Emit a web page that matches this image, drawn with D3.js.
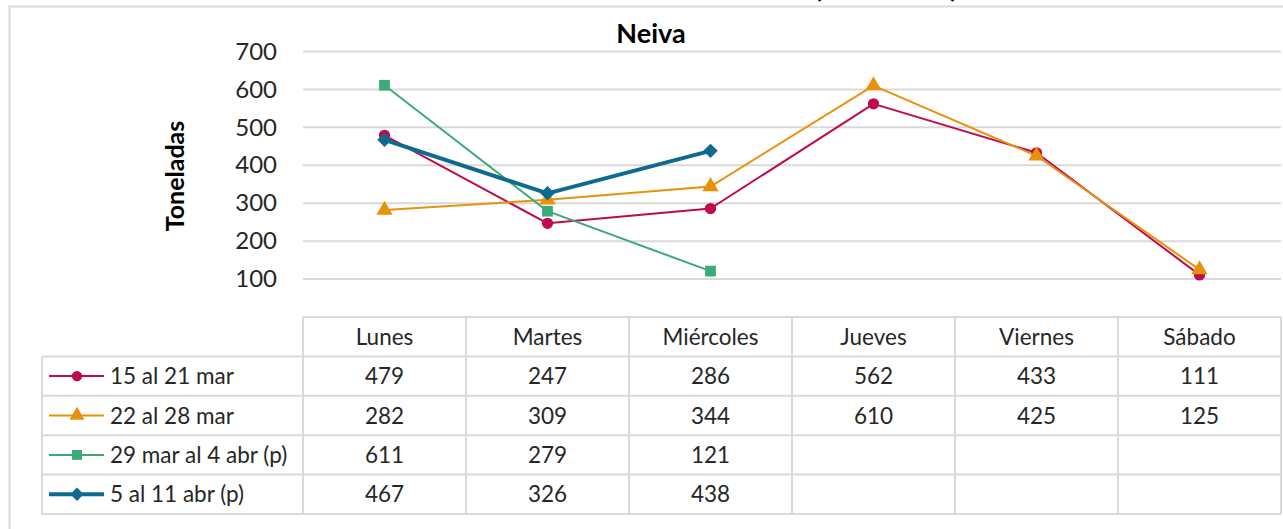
<!DOCTYPE html>
<html lang="es">
<head>
	<meta charset="utf-8">
	<title>Neiva</title>
	<script src="https://d3js.org/d3.v7.min.js"></script>
	<style>
		body { margin: 0; background: #fff; }
		text { font-family: Lato, "Open Sans", sans-serif; fill: #262626; }
	</style>
</head>
<body>
	<script>
		// Data
		var days = ["Lunes", "Martes", "Miércoles", "Jueves", "Viernes", "Sábado"];
		var seriesNames = ["15 al 21 mar", "22 al 28 mar", "29 mar al 4 abr (p)", "5 al 11 abr (p)"];
		var s1 = [479, 247, 286, 562, 433, 111];
		var s2 = [282, 309, 344, 610, 425, 125];
		var s3 = [611, 279, 121];
		var s4 = [467, 326, 438];
		var yTicks = [100, 200, 300, 400, 500, 600, 700];

		var colors = ["#c0094f", "#e8920c", "#3aaa78", "#0e6a8f"];
		var widths = [2, 2, 2, 4];
		// diamond = square turned by 45 degrees
		var symbols = [d3.symbolCircle, d3.symbolTriangle, d3.symbolSquare, d3.symbolSquare];
		var symRot = [0, 0, 0, 45];
		var symSizes = [100, 115, 115, 105];

		var series = [s1, s2, s3, s4].map(function(v, i) {
			return { name: seriesNames[i], values: v, color: colors[i], width: widths[i], symbol: symbols[i], rot: symRot[i], size: symSizes[i] };
		});

		var w = 1283, h = 529;
		var plotLeft = 303, plotRight = 1281;
		var plotTop = 51.5, zeroY = 317;
		var rowH = 39.4;
		var tableFont = 22.5;

		var svg = d3.select("body").append("svg")
			.attr("width", w)
			.attr("height", h);

		// outer frame
		svg.append("path")
			.attr("d", "M9.5," + h + "V6.5H" + w)
			.attr("fill", "none")
			.attr("stroke", "#d9d9d9")
			.attr("stroke-width", 2);

		// clipped title above the frame
		svg.append("text")
			.attr("x", 886)
			.attr("y", -3)
			.attr("text-anchor", "middle")
			.attr("font-size", 30)
			.attr("font-weight", "bold")
			.style("fill", "#000")
			.text("(toneladas)");

		var xScale = d3.scaleBand()
			.domain(days)
			.range([plotLeft, plotRight]);

		var yScale = d3.scaleLinear()
			.domain([0, 700])
			.range([zeroY, plotTop]);

		function cx(i) { return xScale(days[i]) + xScale.bandwidth() / 2; }

		// gridlines
		svg.append("g")
			.selectAll("line")
			.data(yTicks)
			.enter()
			.append("line")
			.attr("x1", plotLeft)
			.attr("x2", plotRight)
			.attr("y1", function(d) { return yScale(d); })
			.attr("y2", function(d) { return yScale(d); })
			.attr("stroke", "#d9d9d9")
			.attr("stroke-width", 2);

		// y axis labels
		var yAxis = d3.axisLeft(yScale).tickValues(yTicks).tickSize(0).tickPadding(26);
		var gy = svg.append("g")
			.attr("transform", "translate(" + plotLeft + ",0)")
			.call(yAxis);
		gy.select(".domain").remove();
		gy.selectAll("text")
			.attr("font-size", 24)
			.style("font-family", "Lato, sans-serif")
			.style("fill", "#262626");

		svg.append("text")
			.attr("transform", "translate(184,176) rotate(-90)")
			.attr("text-anchor", "middle")
			.attr("font-size", 25)
			.attr("font-weight", "bold")
			.style("fill", "#000")
			.text("Toneladas");

		svg.append("text")
			.attr("x", 651)
			.attr("y", 43)
			.attr("text-anchor", "middle")
			.attr("font-size", 27)
			.attr("font-weight", "bold")
			.style("fill", "#000")
			.text("Neiva");

		// lines and markers
		var line = d3.line()
			.x(function(d, i) { return cx(i); })
			.y(function(d) { return yScale(d); });

		series.forEach(function(s) {
			svg.append("path")
				.datum(s.values)
				.attr("d", line)
				.attr("fill", "none")
				.attr("stroke", s.color)
				.attr("stroke-width", s.width)
				.attr("stroke-linejoin", "round");

			svg.append("g")
				.selectAll("path")
				.data(s.values)
				.enter()
				.append("path")
				.attr("d", d3.symbol().type(s.symbol).size(s.size))
				.attr("transform", function(d, i) {
					return "translate(" + cx(i) + "," + yScale(d) + ") rotate(" + s.rot + ")";
				})
				.attr("fill", s.color);
		});

		// data table
		var table = svg.append("g");
		var border = "#d9d9d9";
		var legLeft = 42;

		// header
		table.selectAll(".hdr")
			.data(days)
			.enter()
			.append("text")
			.attr("x", function(d, i) { return cx(i); })
			.attr("y", zeroY + rowH / 2 + 8)
			.attr("text-anchor", "middle")
			.attr("font-size", tableFont)
			.text(function(d) { return d; });

		series.forEach(function(s, r) {
			var yMid = zeroY + rowH * (r + 1.5);
			table.selectAll(".v" + r)
				.data(s.values)
				.enter()
				.append("text")
				.attr("x", function(d, i) { return cx(i); })
				.attr("y", yMid + 8)
				.attr("text-anchor", "middle")
				.attr("font-size", tableFont)
				.text(function(d) { return d; });

			// legend key
			table.append("line")
				.attr("x1", 49).attr("x2", 104)
				.attr("y1", yMid).attr("y2", yMid)
				.attr("stroke", s.color)
				.attr("stroke-width", s.width);
			table.append("path")
				.attr("d", d3.symbol().type(s.symbol).size(s.size * 0.85))
				.attr("transform", "translate(77," + yMid + ") rotate(" + s.rot + ")")
				.attr("fill", s.color);
			table.append("text")
				.attr("x", 110)
				.attr("y", yMid + 8)
				.attr("font-size", tableFont)
				.text(s.name);
		});

		// table grid
		var rowsY = d3.range(series.length + 2).map(function(i) { return zeroY + rowH * i; });
		rowsY.forEach(function(y, i) {
			table.append("line")
				.attr("x1", i < 1 ? plotLeft : legLeft)
				.attr("x2", plotRight)
				.attr("y1", y).attr("y2", y)
				.attr("stroke", border)
				.attr("stroke-width", 2);
		});
		var colsX = days.map(function(d) { return xScale(d); }).concat([plotRight]);
		colsX.forEach(function(x) {
			table.append("line")
				.attr("x1", x).attr("x2", x)
				.attr("y1", zeroY).attr("y2", rowsY[rowsY.length - 1])
				.attr("stroke", border)
				.attr("stroke-width", 2);
		});
		table.append("line")
			.attr("x1", legLeft).attr("x2", legLeft)
			.attr("y1", rowsY[1]).attr("y2", rowsY[rowsY.length - 1])
			.attr("stroke", border)
			.attr("stroke-width", 2);
	</script>
</body>
</html>
